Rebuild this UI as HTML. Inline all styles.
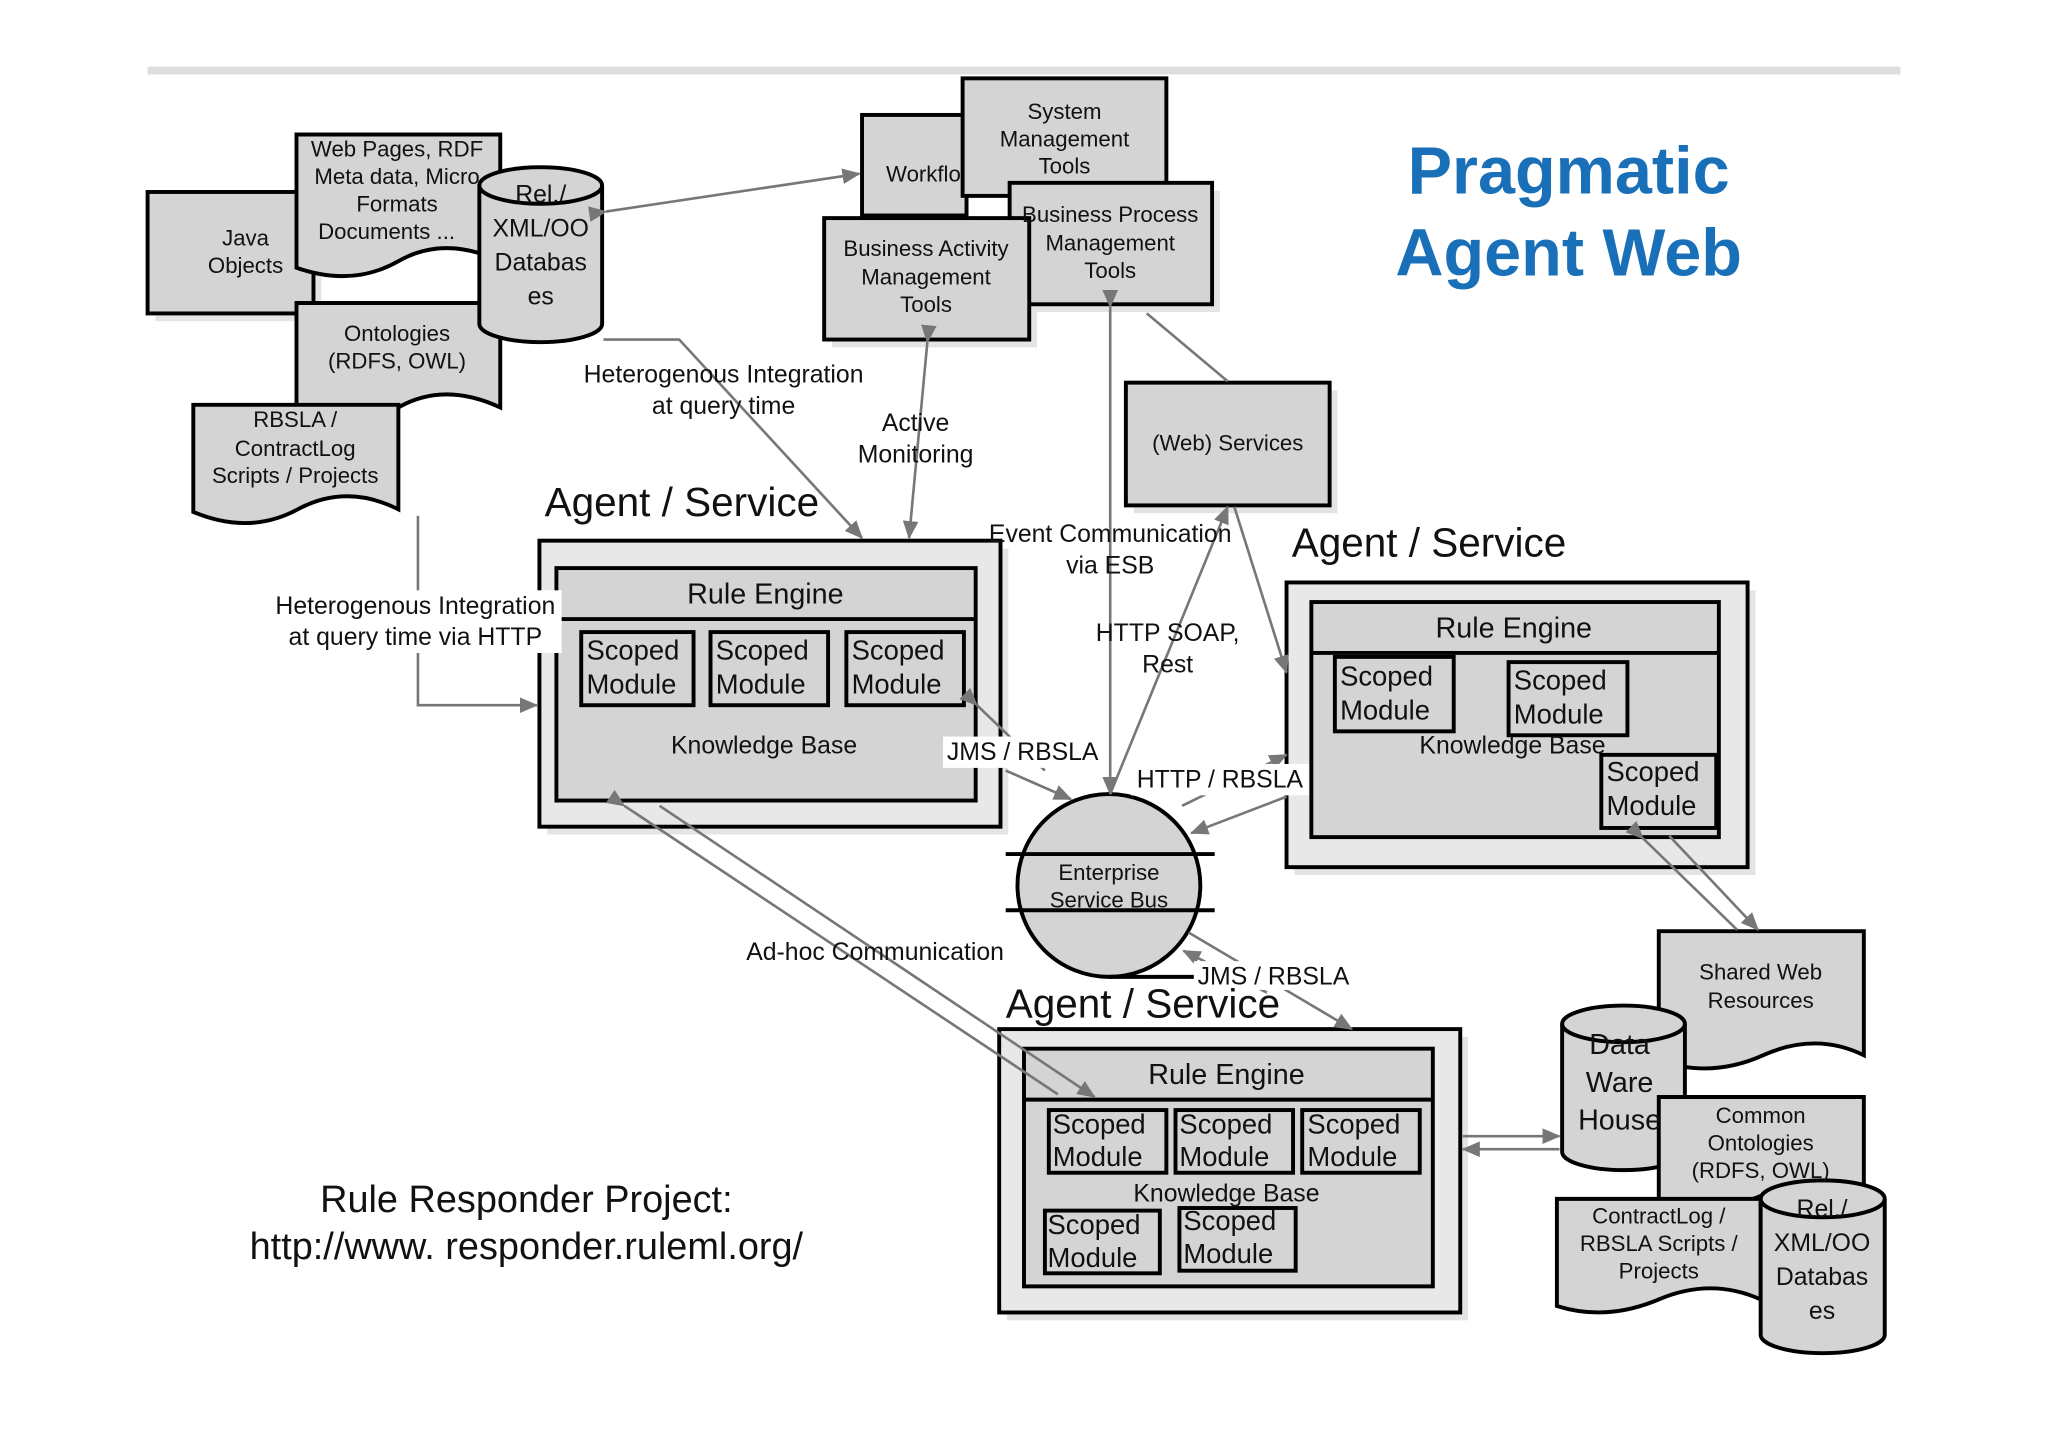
<!DOCTYPE html>
<html><head><meta charset="utf-8"><style>html,body{margin:0;padding:0;background:#fff}svg{display:block}text{font-family:"Liberation Sans",sans-serif;fill:#111}</style></head>
<body>
<svg width="2048" height="1447" viewBox="0 0 1568 1108" preserveAspectRatio="none" xmlns="http://www.w3.org/2000/svg">
<defs>
<marker id="b" markerWidth="14" markerHeight="12" refX="13" refY="6" orient="auto" markerUnits="userSpaceOnUse"><path d="M0,0 L14,6 L0,12 z" fill="#777"/></marker>
</defs>
<rect x="113" y="51" width="1342" height="6" fill="#ddd"/>
<g stroke="#000" stroke-width="3" fill="#d4d4d4">
<g fill="#e4e4e4" stroke="none">
<rect x="119" y="153" width="127" height="93"/><rect x="868" y="299" width="156" height="94"/>
<rect x="419" y="420" width="353" height="219"/><rect x="991" y="452" width="353" height="218"/><rect x="771" y="794" width="353" height="217"/>
<rect x="637" y="173" width="157" height="93"/><rect x="779" y="146" width="155" height="93"/>
</g>
<rect x="113" y="147" width="127" height="93"/>
<path d="M227,103 H383 V200 Q340,180 305,200 T227,205 Z"/>
<path d="M227,232 H383 V312 Q340,292 305,312 T227,315 Z"/>
<path d="M148,310 H305 V390 Q265,370 228,390 T148,392 Z"/>
<path d="M367,142 A47,14 0 0 1 461,142 V248 A47,14 0 0 1 367,248 Z"/><path d="M367,142 A47,14 0 0 0 461,142" fill="none"/>
<rect x="660" y="88" width="80" height="77"/>
<rect x="737" y="60" width="156" height="90"/>
<rect x="773" y="140" width="155" height="93"/>
<rect x="631" y="167" width="157" height="93"/>
<rect x="862" y="293" width="156" height="94"/>
<rect x="413" y="414" width="353" height="219" fill="#e8e8e8"/>
<rect x="426" y="435" width="321" height="178"/><line x1="426" y1="474" x2="747" y2="474"/>
<rect x="445" y="484" width="86" height="56"/><rect x="544" y="484" width="90" height="56"/><rect x="648" y="484" width="90" height="56"/>
<rect x="985" y="446" width="353" height="218" fill="#e8e8e8"/>
<rect x="1004" y="461" width="312" height="180"/><line x1="1004" y1="500" x2="1316" y2="500"/>
<rect x="1022" y="503" width="91" height="57"/><rect x="1155" y="507" width="91" height="56"/><rect x="1226" y="578" width="88" height="56"/>
<rect x="765" y="788" width="353" height="217" fill="#e8e8e8"/>
<rect x="784" y="803" width="313" height="182"/><line x1="784" y1="842" x2="1097" y2="842"/>
<rect x="803" y="850" width="90" height="48"/><rect x="900" y="850" width="90" height="48"/><rect x="997" y="850" width="90" height="48"/>
<rect x="800" y="927" width="88" height="48"/><rect x="903" y="925" width="89" height="48"/>
<circle cx="849" cy="678" r="70"/>
<line x1="770" y1="654" x2="930" y2="654"/><line x1="770" y1="697" x2="930" y2="697"/>
<line x1="849" y1="748" x2="930" y2="748"/>
<path d="M1270,713 H1427 V808 Q1390,790 1350,808 T1270,812 Z"/>
<path d="M1196,784 A47,14 0 0 1 1290,784 V882 A47,14 0 0 1 1196,882 Z"/><path d="M1196,784 A47,14 0 0 0 1290,784" fill="none"/>
<path d="M1270,840 H1427 V915 Q1390,898 1350,915 T1270,918 Z"/>
<path d="M1192,918 H1348 V995 Q1310,978 1270,995 T1192,1000 Z"/>
<path d="M1348,918 A47,14 0 0 1 1443,918 V1022 A47,14 0 0 1 1348,1022 Z"/><path d="M1348,918 A47,14 0 0 0 1443,918" fill="none"/>
</g>
<g stroke="#777" stroke-width="2" fill="none">
<line x1="464" y1="162" x2="658" y2="133" marker-end="url(#b)" marker-start="url(#b)"/>
<polyline points="462,260 520,260 660,412" marker-end="url(#b)"/>
<line x1="710" y1="262" x2="696" y2="412" marker-end="url(#b)" marker-start="url(#b)"/>
<line x1="850" y1="235" x2="850" y2="608" marker-end="url(#b)" marker-start="url(#b)"/>
<line x1="940" y1="292" x2="878" y2="240"/>
<line x1="850" y1="608" x2="940" y2="388" marker-end="url(#b)"/>
<line x1="945" y1="388" x2="985" y2="515" marker-end="url(#b)"/>
<polyline points="320,395 320,540 411,540" marker-end="url(#b)"/>
<line x1="748" y1="540" x2="800" y2="590" marker-start="url(#b)"/>
<line x1="770" y1="590" x2="820" y2="612" marker-end="url(#b)"/>
<line x1="905" y1="617" x2="985" y2="578" marker-end="url(#b)"/>
<line x1="985" y1="610" x2="912" y2="638" marker-end="url(#b)"/>
<line x1="910" y1="714" x2="1035" y2="788" marker-end="url(#b)"/>
<line x1="970" y1="760" x2="906" y2="728" marker-end="url(#b)"/>
<line x1="478" y1="617" x2="810" y2="838" marker-start="url(#b)"/>
<line x1="505" y1="617" x2="838" y2="840" marker-end="url(#b)"/>
<line x1="1120" y1="870" x2="1194" y2="870" marker-end="url(#b)"/>
<line x1="1194" y1="880" x2="1120" y2="880" marker-end="url(#b)"/>
<line x1="1258" y1="642" x2="1330" y2="712" marker-start="url(#b)"/>
<line x1="1278" y1="640" x2="1346" y2="712" marker-end="url(#b)"/>
</g>
<g fill="#fff"><rect x="722" y="564" width="124" height="24"/><rect x="866" y="585" width="136" height="24"/><rect x="914" y="736" width="122" height="22"/><rect x="205" y="452" width="225" height="48"/></g>
<g font-size="17" text-anchor="middle">
<text x="188" y="188">Java</text><text x="188" y="209">Objects</text>
<text x="304" y="120">Web Pages, RDF</text><text x="304" y="141">Meta data, Micro</text><text x="304" y="162">Formats</text><text x="296" y="183">Documents ...</text>
<text x="304" y="261">Ontologies</text><text x="304" y="282">(RDFS, OWL)</text>
<text x="226" y="327">RBSLA /</text><text x="226" y="349">ContractLog</text><text x="226" y="370">Scripts / Projects</text>
<text x="707" y="139">Workflo</text>
<text x="815" y="91">System</text><text x="815" y="112">Management</text><text x="815" y="133">Tools</text>
<text x="850" y="170">Business Process</text><text x="850" y="192">Management</text><text x="850" y="213">Tools</text>
<text x="709" y="196">Business Activity</text><text x="709" y="218">Management</text><text x="709" y="239">Tools</text>
<text x="940" y="345">(Web) Services</text>
<text x="1348" y="750">Shared Web</text><text x="1348" y="772">Resources</text>
<text x="1348" y="860">Common</text><text x="1348" y="881">Ontologies</text><text x="1348" y="902">(RDFS, OWL)</text>
<text x="1270" y="937">ContractLog /</text><text x="1270" y="958">RBSLA Scripts /</text><text x="1270" y="979">Projects</text>
<text x="849" y="674">Enterprise</text><text x="849" y="695">Service Bus</text>
</g>
<g font-size="19" text-anchor="middle">
<text x="414" y="155">Rel./</text><text x="414" y="181">XML/OO</text><text x="414" y="207">Databas</text><text x="414" y="233">es</text>
<text x="1395" y="932">Rel./</text><text x="1395" y="958">XML/OO</text><text x="1395" y="984">Databas</text><text x="1395" y="1010">es</text>
<text x="554" y="293">Heterogenous Integration</text><text x="554" y="317">at query time</text>
<text x="701" y="330">Active</text><text x="701" y="354">Monitoring</text>
<text x="850" y="415">Event Communication</text><text x="850" y="439">via ESB</text>
<text x="894" y="491">HTTP SOAP,</text><text x="894" y="515">Rest</text>
<text x="318" y="470">Heterogenous Integration</text><text x="318" y="494">at query time via HTTP</text>
<text x="783" y="582">JMS / RBSLA</text><text x="934" y="603">HTTP / RBSLA</text><text x="975" y="754">JMS / RBSLA</text>
<text x="670" y="735">Ad-hoc Communication</text>
<text x="585" y="577">Knowledge Base</text><text x="1158" y="577">Knowledge Base</text><text x="939" y="920">Knowledge Base</text>
</g>
<g font-size="22" text-anchor="middle">
<text x="586" y="462">Rule Engine</text><text x="1159" y="488">Rule Engine</text><text x="939" y="830">Rule Engine</text>
<text x="1240" y="807">Data</text><text x="1240" y="836">Ware</text><text x="1240" y="865">House</text>
</g>
<g font-size="21">
<text x="449" y="505">Scoped</text><text x="449" y="531">Module</text>
<text x="548" y="505">Scoped</text><text x="548" y="531">Module</text>
<text x="652" y="505">Scoped</text><text x="652" y="531">Module</text>
<text x="1026" y="525">Scoped</text><text x="1026" y="551">Module</text>
<text x="1159" y="528">Scoped</text><text x="1159" y="554">Module</text>
<text x="1230" y="598">Scoped</text><text x="1230" y="624">Module</text>
<text x="806" y="868">Scoped</text><text x="806" y="893">Module</text>
<text x="903" y="868">Scoped</text><text x="903" y="893">Module</text>
<text x="1001" y="868">Scoped</text><text x="1001" y="893">Module</text>
<text x="802" y="945">Scoped</text><text x="802" y="970">Module</text>
<text x="906" y="942">Scoped</text><text x="906" y="967">Module</text>
</g>
<g font-size="31"><text x="417" y="395">Agent / Service</text><text x="989" y="426">Agent / Service</text><text x="770" y="779">Agent / Service</text></g>
<g font-size="29" text-anchor="middle"><text x="403" y="928">Rule Responder Project:</text><text x="403" y="964">http://www. responder.ruleml.org/</text></g>
<g font-size="51" font-weight="bold" text-anchor="middle"><text x="1201" y="148" style="fill:#1a70b8">Pragmatic</text><text x="1201" y="211" style="fill:#1a70b8">Agent Web</text></g>
</svg>
</body></html>
